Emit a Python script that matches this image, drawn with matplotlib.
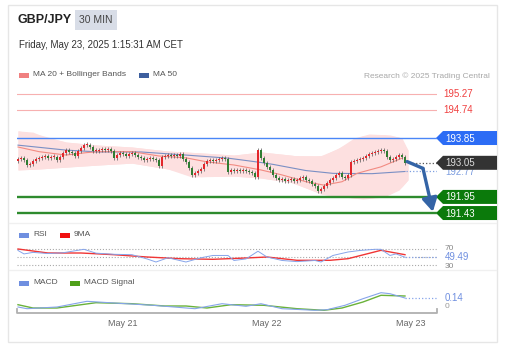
import matplotlib
matplotlib.use('Agg')
import matplotlib.pyplot as plt
from matplotlib.patches import Polygon, Rectangle
import numpy as np

plt.rcParams['font.family'] = ['Liberation Sans', 'DejaVu Sans']

# ---- data (30 min candles, GBP/JPY) ----
first_open = 193.12
closes = [193.17, 193.21, 193.14, 192.98, 193.01, 193.11, 193.17, 193.21, 193.24, 193.27,
          193.21, 193.24, 193.24, 193.14, 193.24, 193.37, 193.46, 193.40, 193.37, 193.27,
          193.43, 193.53, 193.62, 193.62, 193.56, 193.43, 193.43, 193.46, 193.50, 193.46,
          193.50, 193.43, 193.21, 193.30, 193.37, 193.33, 193.27, 193.33, 193.37, 193.30,
          193.24, 193.21, 193.14, 193.17, 193.21, 193.17, 193.14, 192.95, 193.24, 193.27,
          193.30, 193.27, 193.30, 193.27, 193.33, 193.17, 193.08, 192.88, 192.66, 192.72,
          192.79, 192.85, 193.01, 193.11, 193.14, 193.11, 193.14, 193.17, 193.21, 193.17,
          192.75, 192.82, 192.79, 192.82, 192.79, 192.82, 192.79, 192.75, 192.72, 192.59,
          193.46, 193.21, 193.04, 192.92, 192.82, 192.66, 192.56, 192.50, 192.53, 192.46,
          192.50, 192.53, 192.46, 192.50, 192.56, 192.59, 192.50, 192.46, 192.37, 192.30,
          192.14, 192.21, 192.30, 192.40, 192.50, 192.56, 192.66, 192.72, 192.59, 192.56,
          192.66, 193.08, 193.11, 193.14, 193.17, 193.21, 193.27, 193.33, 193.37, 193.40,
          193.43, 193.46, 193.43, 193.24, 193.14, 193.17, 193.24, 193.30, 193.24, 193.05]

ma20_idx = [0, 7, 16, 23, 27, 38, 47, 56, 63, 72, 81, 88, 96, 102, 108, 113, 121, 128]
ma20 = [193.56, 193.41, 193.30, 193.38, 193.41, 193.41, 193.27, 193.21, 193.08, 192.98,
        192.82, 192.66, 192.44, 192.33, 192.44, 192.71, 192.92, 193.20]
ma50_idx = [0, 16, 27, 41, 56, 70, 74, 81, 85, 96, 105, 118, 129]
ma50 = [193.62, 193.46, 193.40, 193.40, 193.30, 193.20, 193.15, 193.06, 193.00, 192.80,
        192.71, 192.70, 192.77]
bb_up_idx = [0, 5, 9, 16, 27, 38, 50, 61, 72, 81, 91, 97, 102, 107, 112, 117, 124, 128, 130]
bb_up = [194.08, 194.04, 193.88, 193.72, 193.62, 193.56, 193.43, 193.37, 193.30, 193.40,
         193.30, 193.21, 193.30, 193.53, 193.85, 193.98, 193.95, 193.85, 193.46]
bb_lo_idx = [0, 7, 16, 27, 38, 50, 58, 66, 72, 81, 92, 101, 106, 115, 122, 127, 130]
bb_lo = [192.82, 192.85, 192.91, 192.98, 193.04, 192.85, 192.59, 192.62, 192.62, 192.56,
         192.40, 192.04, 191.98, 191.88, 191.95, 192.17, 192.50]

resistances = [195.27, 194.74]
pivot = 193.85
supports = [191.95, 191.43]
last_price = 193.05
ma50_last = 192.77

rsi_idx = [0, 2, 5, 10, 15, 22, 26, 32, 38, 43, 46, 50, 56, 61, 65, 70, 72, 76, 80, 83,
           88, 93, 99, 101, 105, 110, 114, 119, 121, 124, 126, 129]
rsi = [67, 58, 62, 59, 61, 70, 60, 57, 56, 45, 37, 48, 37, 48, 54, 54, 41, 45, 65, 50,
       41, 38, 41, 37, 54, 63, 67, 70, 70, 54, 58, 49.49]
rsi9_idx = [0, 10, 21, 32, 43, 54, 65, 76, 83, 93, 104, 110, 121, 129]
rsi9 = [70.8, 60.4, 60.4, 56, 50, 45.6, 44, 47.4, 50, 41.4, 41.4, 45.6, 67.4, 56]

macd_idx = [0, 3, 13, 23, 32, 45, 59, 68, 76, 81, 88, 99, 103, 109, 115, 121, 124, 129]
macd = [-0.04, -0.074, -0.04, 0.074, 0.04, -0.006, -0.074, 0.026, -0.026, 0.026, -0.074,
        -0.106, -0.094, -0.006, 0.126, 0.246, 0.226, 0.14]
sig_idx = [0, 5, 13, 26, 38, 49, 56, 63, 71, 82, 93, 102, 108, 115, 121, 129]
sig = [0.006, -0.06, -0.06, 0.046, 0.026, -0.02, -0.02, -0.06, 0.006, -0.006, -0.074,
       -0.106, -0.06, 0.06, 0.194, 0.18]

date_idx = [35, 83, 131]
date_labels = ['May 21', 'May 22', 'May 23']

# arrow of the expected move (index, price)
arrow_pts = [(129.7, 193.09), (135, 192.87), (138.3, 191.47)]

W, H = 515, 352
fig = plt.figure(figsize=(W / 100, H / 100), dpi=100)
fig.patch.set_facecolor('white')

def frac(x0, y0, x1, y1):
    return [x0 / W, 1 - y1 / H, (x1 - x0) / W, (y1 - y0) / H]

ov = fig.add_axes([0, 0, 1, 1])
ov.set_xlim(0, W)
ov.set_ylim(H, 0)
ov.axis('off')

ax = fig.add_axes(frac(17, 85, 437, 222))
ax_rsi = fig.add_axes(frac(17, 243, 437, 268))
ax_macd = fig.add_axes(frac(17, 277, 437, 313))
XL = (-0.33, 139.67)
for a in (ax, ax_rsi, ax_macd):
    a.set_xlim(*XL)
    a.axis('off')
ax.set_ylim(191.141, 195.56)
ax_rsi.set_ylim(21.4, 86.4)
ax_macd.set_ylim(-0.16, 0.56)

# ---- card frame, header ----
ov.add_patch(Rectangle((8, 5), 489, 337, fill=False, ec='#e6e6e6', lw=1))
ov.plot([9, 496], [223, 223], color='#f0f0f0', lw=1)
ov.plot([9, 496], [270, 270], color='#f0f0f0', lw=1)
ov.text(17, 20, 'GBP/JPY', fontsize=9, fontweight='bold', color='#222222', va='center')
ov.add_patch(Rectangle((75, 10), 42, 20, fc='#d8dde7', ec='none'))
ov.text(96, 20, '30 MIN', fontsize=7.5, color='#444444', va='center', ha='center')
ov.text(19, 45, 'Friday, May 23, 2025 1:15:31 AM CET', fontsize=7, color='#333333', va='center')

def legend_item(x, y, color, label):
    ov.add_patch(Rectangle((x, y - 2.5), 10, 5, fc=color, ec='none'))
    ov.text(x + 14, y, label, fontsize=6, color='#555555', va='center')

legend_item(19, 75, '#f08080', 'MA 20 + Bollinger Bands')
legend_item(139, 75, '#3d5f9e', 'MA 50')
ov.text(490, 76, 'Research \u00a9 2025 Trading Central', fontsize=6, color='#a8a8a8',
        va='center', ha='right')
legend_item(19, 235, '#6f8fe0', 'RSI')
legend_item(60, 235, '#f01010', '9MA')
legend_item(19, 283, '#6f8fe0', 'MACD')
legend_item(70, 283, '#4fa01a', 'MACD Signal')

# ---- main price panel ----
idx = np.arange(len(closes))
c = np.array(closes)
o = np.array([first_open] + closes[:-1])
up = c >= o
cols = np.where(up, '#e3262b', '#2f7d32')

ax.fill_between(bb_up_idx, np.interp(bb_up_idx, bb_lo_idx, bb_lo), bb_up,
                color='#fde0e0', lw=0, zorder=1)
ax.fill_between(bb_lo_idx, bb_lo, np.interp(bb_lo_idx, bb_up_idx, bb_up),
                color='#fde0e0', lw=0, zorder=1)

for r in resistances:
    ax.axhline(r, color='#f7b0b0', lw=0.8, zorder=2)
ax.axhline(pivot, color='#4a86f7', lw=1.0, zorder=2)
for s in supports:
    ax.axhline(s, color='#2e8b2e', lw=1.7, zorder=2)

ax.plot(ma50_idx, ma50, color='#7a8fc4', lw=0.8, zorder=3)
ax.plot(ma20_idx, ma20, color='#f28b82', lw=0.8, zorder=3)

body_lo = np.minimum(o, c)
body_h = np.maximum(np.abs(c - o), 0.03)
ax.vlines(idx, body_lo - 0.06, body_lo + body_h + 0.06, color='#555555', lw=0.5, zorder=4)
ax.bar(idx, body_h, bottom=body_lo, width=0.72, color=cols, zorder=5)

ax.plot([idx[-1] + 1.5, XL[1]], [last_price, last_price], ls=':', color='#555555', lw=0.9, zorder=3)
ax.plot([idx[-1] + 0.5, XL[1]], [ma50_last, ma50_last], ls=':', color='#7d9ee0', lw=0.9, zorder=3)

ax.plot([arrow_pts[0][0], arrow_pts[1][0]], [arrow_pts[0][1], arrow_pts[1][1]],
        color='#3464a6', lw=2.4, solid_capstyle='round', zorder=6)
ax.annotate('', xy=arrow_pts[2], xytext=arrow_pts[1],
            arrowprops=dict(arrowstyle='-|>,head_length=0.8,head_width=0.45', color='#3464a6',
                            lw=2.4, shrinkA=0, shrinkB=0), zorder=6, annotation_clip=False)

def ypix(a, v):
    return H - a.transData.transform((0, v))[1]

def tag(price, text, fc, tc):
    y = ypix(ax, price)
    x0, x1, h = 436, 497, 7
    ov.add_patch(Polygon([(x0, y), (x0 + 7, y - h), (x1, y - h), (x1, y + h), (x0 + 7, y + h)],
                         closed=True, fc=fc, ec='none', zorder=5))
    ov.text(x0 + 9, y + 0.5, text, fontsize=7, color=tc, va='center', zorder=6)

for r in resistances:
    ov.text(443, ypix(ax, r), '%.2f' % r, fontsize=7, color='#f04040', va='center')
tag(pivot, '%.2f' % pivot, '#2c6cf5', 'white')
ov.text(445, ypix(ax, ma50_last) + 1, '%.2f' % ma50_last, fontsize=7, color='#7d9ee0',
        va='center', zorder=4)
tag(last_price, '%.2f' % last_price, '#333333', '#dddddd')
for s in supports:
    tag(s, '%.2f' % s, '#0b7a0b', 'white')

# ---- RSI panel ----
for lvl in (70, 50, 30):
    ax_rsi.axhline(lvl, ls=':', color='#aaaaaa', lw=0.8)
ax_rsi.plot(rsi9_idx, rsi9, color='#f03535', lw=1.0, zorder=3)
ax_rsi.plot(rsi_idx, rsi, color='#86a4ea', lw=0.7, zorder=4)
ax_rsi.plot([rsi_idx[-1], XL[1]], [rsi[-1], rsi[-1]], ls=':', color='#86a4ea', lw=0.9)
ov.text(445, ypix(ax_rsi, 70) - 0.5, '70', fontsize=6, color='#888888', va='center')
ov.text(445, ypix(ax_rsi, 30) + 1.5, '30', fontsize=6, color='#888888', va='center')
ov.text(445, ypix(ax_rsi, rsi[-1]), '%.2f' % rsi[-1], fontsize=7, color='#6f8fe0', va='center')

# ---- MACD panel ----
ax_macd.plot(sig_idx, sig, color='#6ab23a', lw=1.0, zorder=3)
ax_macd.plot(macd_idx, macd, color='#86a4ea', lw=0.8, zorder=4)
ax_macd.plot([macd_idx[-1], XL[1]], [macd[-1], macd[-1]], ls=':', color='#86a4ea', lw=0.9)
ov.text(445, ypix(ax_macd, macd[-1]), '%.2f' % macd[-1], fontsize=7, color='#6f8fe0', va='center')
ov.text(445, ypix(ax_macd, 0) + 1.5, '0', fontsize=6, color='#999999', va='center')

# ---- time axis ----
ov.plot([17, 17, 437, 437], [309, 313, 313, 309], color='#b0b0b0', lw=1.3)
for di, lab in zip(date_idx, date_labels):
    xp = ax_macd.transData.transform((di, 0))[0]
    ov.text(xp, 324, lab, fontsize=6.5, color='#666666', ha='center', va='center')

fig.savefig('out.png', dpi=100)
